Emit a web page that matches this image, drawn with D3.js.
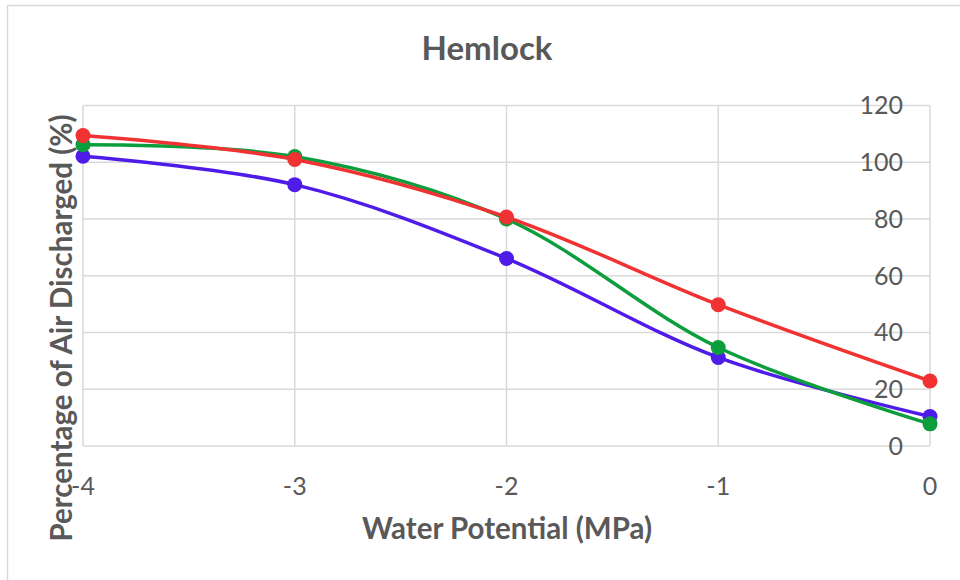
<!DOCTYPE html>
<html><head><meta charset="utf-8">
<script src="https://cdn.jsdelivr.net/npm/d3@7"></script>
<style>body{margin:0;background:#fff}svg{display:block}</style>
</head><body><svg id="c" width="960" height="580"></svg>
<script>
const xValues = [-4, -3, -2, -1, 0];
const redSeries = [109.4, 101.0, 80.7, 49.8, 22.9];
const greenSeries = [106.2, 102.0, 80.0, 34.7, 7.8];
const blueSeries = [102.1, 92.1, 66.1, 31.2, 10.4];
const yTicks = [0, 20, 40, 60, 80, 100, 120];
const xTicks = [-4, -3, -2, -1, 0];
const seriesList = [
  {name: "Series 3", values: blueSeries, color: "#4F1BE8"},
  {name: "Series 2", values: greenSeries, color: "#0C9E3C"},
  {name: "Series 1", values: redSeries, color: "#F03232"}
];

const svg = d3.select("#c");
const font = "Lato, 'Open Sans', sans-serif";
const grey = "#595959";
svg.append("rect").attr("x",7.5).attr("y",5.5).attr("width",960).attr("height",580)
  .attr("fill","#fff").attr("stroke","#d9d9d9").attr("stroke-width",1.5);

const x = d3.scaleLinear().domain([-4,0]).range([83,930]);
const y = d3.scaleLinear().domain([0,120]).range([446,105.5]);

const g = svg.append("g");
// gridlines
g.selectAll(".hg").data(yTicks).join("line")
  .attr("x1",x(-4)).attr("x2",x(0)).attr("y1",d=>y(d)).attr("y2",d=>y(d))
  .attr("stroke","#d9d9d9").attr("stroke-width",1.5);
g.selectAll(".vg").data(xTicks).join("line")
  .attr("x1",d=>x(d)).attr("x2",d=>x(d)).attr("y1",y(0)).attr("y2",y(120))
  .attr("stroke","#d9d9d9").attr("stroke-width",1.5);

// y tick labels (right side, inside)
g.selectAll(".yl").data(yTicks).join("text")
  .attr("x",903).attr("y",d=>y(d)).attr("dy","0.35em")
  .attr("text-anchor","end").attr("font-family",font).attr("font-size",25)
  .attr("fill",grey).text(d=>d);
// x tick labels
g.selectAll(".xl").data(xTicks).join("text")
  .attr("x",d=>x(d)).attr("y",486).attr("dy","0.35em")
  .attr("text-anchor","middle").attr("font-family",font).attr("font-size",25)
  .attr("fill",grey).text(d=>d);

// lines
const line = d3.line().x((d,i)=>x(xValues[i])).y(d=>y(d)).curve(d3.curveCatmullRom.alpha(0.5));
seriesList.forEach(s=>{
  g.append("path").datum(s.values).attr("d",line).attr("fill","none")
    .attr("stroke",s.color).attr("stroke-width",3.5).attr("stroke-linejoin","round");
});
seriesList.forEach(s=>{
  g.selectAll(null).data(s.values).join("circle")
    .attr("cx",(d,i)=>x(xValues[i])).attr("cy",d=>y(d)).attr("r",7.5).attr("fill",s.color);
});

// title
svg.append("text").attr("x",487).attr("y",59.5).attr("text-anchor","middle")
  .attr("font-family",font).attr("font-weight","bold").attr("font-size",33).attr("fill",grey).text("Hemlock");
// axis titles
svg.append("text").attr("x",507).attr("y",539).attr("text-anchor","middle")
  .attr("font-family",font).attr("font-weight","bold").attr("font-size",29.5).attr("fill",grey).text("Water Potential (MPa)");
svg.append("text").attr("transform","translate(62,328) rotate(-90)").attr("dy","0.35em").attr("text-anchor","middle")
  .attr("font-family",font).attr("font-weight","bold").attr("font-size",29.5).attr("fill",grey).text("Percentage of Air Discharged (%)");
</script></body></html>
